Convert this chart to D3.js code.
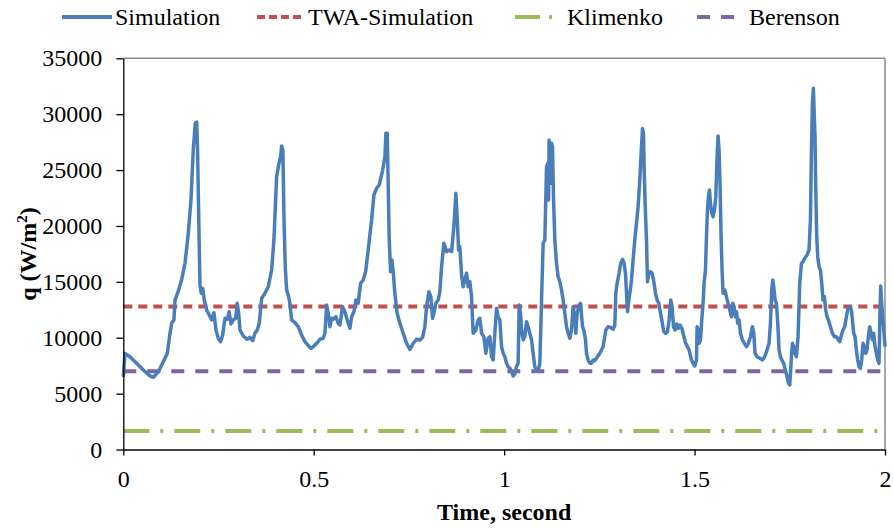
<!DOCTYPE html>
<html>
<head>
<meta charset="utf-8">
<script src="https://cdn.jsdelivr.net/npm/d3@7"></script>
<style>
  body { margin: 0; background: #fff; }
</style>
</head>
<body>
<svg id="chart" width="893" height="529"></svg>
<script>
// Simulated wall heat flux q (W/m²) versus time (s)
const simTime = [
  0, 0.0045, 0.0176, 0.035, 0.0525, 0.070, 0.079, 0.092, 0.105, 0.1155,
  0.1226, 0.127, 0.133, 0.1357, 0.144, 0.153, 0.162, 0.1706, 0.1777, 0.1837,
  0.189, 0.1926, 0.195, 0.198, 0.2013, 0.2047, 0.2084, 0.2126, 0.219, 0.2257,
  0.232, 0.238, 0.2433, 0.2493, 0.2556, 0.2609, 0.267, 0.273, 0.278, 0.2827,
  0.2887, 0.295, 0.299, 0.303, 0.3063, 0.315, 0.3255, 0.3326, 0.3396, 0.3457,
  0.3517, 0.357, 0.3633, 0.372, 0.3806, 0.3895, 0.3955, 0.4026, 0.4087, 0.413,
  0.4157, 0.419, 0.4218, 0.4252, 0.4289, 0.433, 0.4375, 0.442, 0.4506, 0.4593,
  0.4682, 0.4769, 0.488, 0.4935, 0.4987, 0.5076, 0.5163, 0.525, 0.5294, 0.5339,
  0.538, 0.5425, 0.547, 0.5512, 0.5583, 0.5643, 0.5688, 0.5758, 0.5819, 0.5879,
  0.595, 0.5995, 0.6055, 0.6108, 0.6168, 0.623, 0.63, 0.6362, 0.643, 0.652,
  0.658, 0.665, 0.672, 0.681, 0.687, 0.6895, 0.693, 0.6955, 0.698, 0.7018,
  0.7052, 0.7087, 0.713, 0.719, 0.7262, 0.7349, 0.7438, 0.7525, 0.7612, 0.77,
  0.7787, 0.7858, 0.7919, 0.7963, 0.8024, 0.8076, 0.8121, 0.8155, 0.8207, 0.8268,
  0.8312, 0.8357, 0.8417, 0.8488, 0.8556, 0.862, 0.868, 0.8732, 0.8766, 0.8803,
  0.8837, 0.8882, 0.8924, 0.8968, 0.9013, 0.9055, 0.91, 0.9144, 0.9186, 0.9257,
  0.9318, 0.9362, 0.9407, 0.9467, 0.952, 0.958, 0.9625, 0.967, 0.9711, 0.9756,
  0.98, 0.9843, 0.9887, 0.9932, 0.9974, 1.0018, 1.0063, 1.0105, 1.015, 1.0194,
  1.0236, 1.028, 1.0325, 1.0367, 1.0394, 1.043, 1.0465, 1.05, 1.0543, 1.0588,
  1.063, 1.0675, 1.072, 1.0761, 1.0806, 1.085, 1.0892, 1.0937, 1.0982, 1.1024,
  1.1068, 1.1113, 1.1147, 1.1165, 1.1181, 1.1218, 1.1244, 1.127, 1.1297, 1.1331,
  1.1375, 1.1417, 1.1462, 1.1507, 1.1549, 1.1593, 1.1638, 1.168, 1.1724, 1.1769,
  1.1811, 1.1856, 1.1882, 1.1916, 1.1969, 1.2005, 1.2058, 1.2092, 1.2136, 1.2163,
  1.2205, 1.225, 1.2294, 1.2336, 1.238, 1.2425, 1.2512, 1.2598, 1.267, 1.273,
  1.2793, 1.286, 1.2906, 1.2932, 1.2966, 1.3018, 1.3063, 1.3108, 1.315, 1.3186,
  1.3213, 1.324, 1.3273, 1.33, 1.3344, 1.3386, 1.343, 1.3475, 1.3517, 1.3562,
  1.3606, 1.3633, 1.3659, 1.3675, 1.3701, 1.3738, 1.3764, 1.3798, 1.3843, 1.3885,
  1.393, 1.3974, 1.4016, 1.406, 1.4105, 1.4147, 1.4192, 1.4244, 1.4289, 1.4331,
  1.4375, 1.441, 1.4446, 1.4488, 1.4533, 1.4577, 1.462, 1.4664, 1.4709, 1.4761,
  1.4814, 1.4856, 1.4919, 1.4961, 1.5006, 1.505, 1.5066, 1.5092, 1.5118, 1.5155,
  1.5189, 1.5223, 1.525, 1.5286, 1.5312, 1.5339, 1.5365, 1.5391, 1.5417, 1.5452,
  1.5486, 1.5523, 1.5557, 1.5591, 1.5617, 1.5643, 1.567, 1.5696, 1.5722, 1.5748,
  1.5793, 1.5837, 1.5879, 1.5924, 1.5969, 1.6003, 1.6037, 1.6073, 1.61, 1.6134,
  1.6168, 1.6205, 1.6257, 1.631, 1.6362, 1.6415, 1.6467, 1.652, 1.6554, 1.6588,
  1.6641, 1.6711, 1.6782, 1.6843, 1.6903, 1.6955, 1.6992, 1.7026, 1.7053, 1.7079,
  1.7113, 1.7149, 1.7184, 1.7218, 1.7255, 1.7289, 1.7341, 1.7394, 1.7428, 1.7465,
  1.75, 1.7533, 1.757, 1.7604, 1.7638, 1.7674, 1.7717, 1.7761, 1.7806, 1.7848,
  1.7892, 1.7953, 1.8005, 1.8042, 1.8068, 1.8094, 1.812, 1.8147, 1.8163, 1.8181,
  1.8207, 1.8234, 1.8268, 1.8304, 1.8339, 1.8373, 1.8409, 1.8444, 1.8478, 1.8514,
  1.8567, 1.8619, 1.8672, 1.8724, 1.8777, 1.8811, 1.8856, 1.8898, 1.8942, 1.8987,
  1.9029, 1.9073, 1.9118, 1.9144, 1.9178, 1.9213, 1.9247, 1.9283, 1.9318, 1.9354,
  1.9388, 1.9423, 1.9458, 1.9493, 1.9528, 1.9563, 1.9598, 1.9633, 1.9669, 1.9703,
  1.9738, 1.9774, 1.9808, 1.9843, 1.9869, 1.9887, 1.9913, 1.994, 1.9974, 2.0
];
const simQ = [
  6500, 8600, 8300, 7710, 7110, 6575, 6460, 6960, 7855, 8600,
  10400, 11290, 11590, 13375, 14120, 15165, 16660, 19340, 22320, 26800,
  29185, 29300, 26800, 20830, 14720, 13975, 14420, 13375, 12480, 12030,
  11590, 12240, 10690, 9950, 9645, 10245, 11740, 11650, 12330, 11230,
  11590, 11740, 13080, 12185, 10690, 10155, 9860, 10040, 9735, 10400,
  10690, 11290, 13530, 13975, 14570, 16060, 18745, 24410, 25605, 26200,
  27150, 26800, 20830, 16355, 14270, 13825, 13080, 11590, 11345, 10990,
  10245, 9645, 9200, 9055, 9200, 9500, 9860, 9950, 10400, 12930,
  12185, 10990, 11740, 11650, 11880, 11290, 11140, 12775, 12330, 11590,
  10845, 11880, 12330, 13375, 13080, 14870, 15165, 15910, 17850, 20530,
  22770, 23370, 23665, 25000, 26200, 28290, 28290, 23815, 19040, 15910,
  16955, 15910, 13975, 12185, 11290, 10400, 9500, 8965, 9500, 9860,
  9800, 10040, 10990, 12775, 14120, 13670, 11740, 12185, 13080, 13375,
  14120, 16355, 18450, 17700, 17850, 17700, 19935, 22920, 20830, 17850,
  18145, 15610, 14570, 15165, 15765, 14570, 15015, 13670, 10400, 10690,
  11590, 11740, 10400, 10095, 8605, 9950, 10095, 8300, 8010, 10400,
  12630, 11880, 11590, 9200, 8605, 8300, 7710, 7410, 7265, 6960,
  6575, 6755, 7410, 7710, 12930, 12185, 10400, 9800, 10095, 11435,
  10990, 10400, 9800, 8605, 7410, 7050, 7050, 7710, 13375, 18450,
  18745, 25300, 25600, 22320, 27690, 23815, 27390, 27090, 22320, 18745,
  16660, 15460, 15015, 14270, 13375, 12185, 10990, 10400, 9950, 10690,
  12775, 11880, 10400, 12185, 12930, 13080, 10990, 10690, 9800, 8605,
  8010, 7710, 7710, 8010, 7945, 8160, 8605, 9200, 10690, 10990,
  10930, 10755, 11140, 13975, 14870, 15765, 16660, 17015, 16660, 15765,
  13975, 12330, 13375, 13975, 15165, 16955, 18745, 20240, 21720, 24110,
  27090, 28730, 28290, 25300, 22030, 18745, 15015, 15765, 15910, 15765,
  15015, 13975, 13375, 13080, 12185, 11435, 10540, 10400, 10540, 11590,
  13375, 12775, 10990, 10690, 11230, 10845, 11140, 10845, 10245, 9555,
  9200, 8910, 8010, 7710, 7470, 8010, 10990, 10690, 9500, 9800,
  11590, 13080, 14870, 16060, 19040, 21430, 22620, 23220, 22030, 21130,
  20830, 21430, 22620, 26200, 28050, 26800, 23515, 19040, 16060, 13975,
  14270, 13670, 13080, 12480, 11880, 13080, 12775, 11880, 12330, 11290,
  11590, 10400, 9800, 9500, 9200, 9500, 10095, 10990, 10400, 8605,
  8300, 8160, 8010, 8300, 8910, 9500, 11290, 14270, 15165, 14570,
  13375, 13080, 11290, 8910, 8300, 8010, 7710, 6960, 6515, 5920,
  5770, 7710, 9500, 9200, 8605, 8300, 10095, 14870, 16660, 16800,
  17105, 17400, 17850, 20530, 26500, 30975, 32315, 29480, 27990, 23515,
  19040, 17250, 16355, 16060, 14870, 13375, 13670, 12480, 11880, 11590,
  10990, 10400, 10095, 10095, 9800, 9645, 10245, 10690, 10990, 11880,
  12630, 12775, 12480, 11590, 10400, 10095, 8910, 8010, 7410, 7265,
  8010, 9500, 9200, 8605, 8910, 10095, 10990, 10400, 9800, 10400,
  9200, 8605, 8010, 7710, 12480, 14630, 13080, 11880, 10400, 9200
];

// Reference (constant) heat flux levels
const twaQ = 12800;
const klimenkoQ = 1650;
const berensonQ = 7000;

const seriesNames = ["Simulation", "TWA-Simulation", "Klimenko", "Berenson"];
const xTicks = [0, 0.5, 1, 1.5, 2];
const xTickLabels = ["0", "0.5", "1", "1.5", "2"];
const yTicks = [0, 5000, 10000, 15000, 20000, 25000, 30000, 35000];
const yTickLabels = ["0", "5000", "10000", "15000", "20000", "25000", "30000", "35000"];
const xTitle = "Time, second";

// Layout and styles
const FONT = '"Liberation Serif", "Times New Roman", Tinos, serif';
const plot = { left: 123.3, right: 885, top: 58.3, bottom: 449.5 };
const colors = { sim: "#4A7EBB", twa: "#C0504D", kli: "#9BBB59", ber: "#8064A2" };
const dashes = { twa: "9,6", kli: "26,11,3,11", ber: "13,11" };

const svg = d3.select("#chart");

const x = d3.scaleLinear().domain([0, 2]).range([plot.left, plot.right]);
const y = d3.scaleLinear().domain([0, 35000]).range([plot.bottom, plot.top]);

// Plot frame (top and right edges)
svg.append("line")
  .attr("x1", plot.left).attr("x2", plot.right)
  .attr("y1", plot.top).attr("y2", plot.top)
  .attr("stroke", "#8c8c8c").attr("stroke-width", 1.5);
svg.append("line")
  .attr("x1", plot.right).attr("x2", plot.right)
  .attr("y1", plot.top).attr("y2", plot.bottom)
  .attr("stroke", "#8c8c8c").attr("stroke-width", 1.5);

// Constant reference lines
const refLines = [
  { v: klimenkoQ, c: colors.kli, d: dashes.kli },
  { v: berensonQ, c: colors.ber, d: dashes.ber },
  { v: twaQ, c: colors.twa, d: dashes.twa }
];
refLines.forEach(r => {
  svg.append("line")
    .attr("x1", x(0)).attr("x2", x(2))
    .attr("y1", y(r.v)).attr("y2", y(r.v))
    .attr("stroke", r.c).attr("stroke-width", 4)
    .attr("stroke-dasharray", r.d);
});

// Simulation curve
const line = d3.line()
  .x((d, i) => x(simTime[i]))
  .y((d, i) => y(simQ[i]));
svg.append("path")
  .datum(simQ)
  .attr("d", line)
  .attr("fill", "none")
  .attr("stroke", colors.sim)
  .attr("stroke-width", 3.5)
  .attr("stroke-linejoin", "round");

// Axes
const yAxis = svg.append("g")
  .attr("transform", `translate(${plot.left},0)`)
  .call(d3.axisLeft(y).tickValues(yTicks).tickFormat((d, i) => yTickLabels[i])
        .tickSize(7).tickPadding(14).tickSizeOuter(0));
const xAxis = svg.append("g")
  .attr("transform", `translate(0,${plot.bottom})`)
  .call(d3.axisBottom(x).tickValues(xTicks).tickFormat((d, i) => xTickLabels[i])
        .tickSize(6).tickSizeOuter(0));

[yAxis, xAxis].forEach(g => {
  g.select(".domain").attr("stroke", "#000").attr("stroke-width", 1.3);
  g.selectAll(".tick line").attr("stroke", "#000").attr("stroke-width", 1.3);
  g.selectAll("text").attr("fill", "#000").style("font-size", "24px");
});
xAxis.selectAll("text").attr("y", 37).attr("dy", 0);

// Axis titles
svg.append("text")
  .attr("x", (plot.left + plot.right) / 2)
  .attr("y", 520)
  .attr("text-anchor", "middle")
  .style("font-size", "24px").style("font-weight", "bold")
  .text(xTitle);

const yTitle = svg.append("text")
  .attr("transform", "translate(36,254) rotate(-90)")
  .attr("text-anchor", "middle")
  .style("font-size", "24px").style("font-weight", "bold");
yTitle.append("tspan").text("q (W/m");
yTitle.append("tspan").style("font-size", "15px").attr("dy", -9).text("2");
yTitle.append("tspan").attr("dy", 9).text(")");

// Legend
const legendY = 17;
const legendItems = [
  { name: seriesNames[0], x1: 62, x2: 112, tx: 115, c: colors.sim, d: null },
  { name: seriesNames[1], x1: 257, x2: 303, tx: 308, c: colors.twa, d: "8,4" },
  { name: seriesNames[2], x1: 515, x2: 555, tx: 567, c: colors.kli, d: "25,9,3,20" },
  { name: seriesNames[3], x1: 697, x2: 735, tx: 749, c: colors.ber, d: "13,11" }
];
const leg = svg.append("g");
legendItems.forEach(it => {
  const l = leg.append("line")
    .attr("x1", it.x1).attr("x2", it.x2)
    .attr("y1", legendY).attr("y2", legendY)
    .attr("stroke", it.c).attr("stroke-width", 4);
  if (it.d) l.attr("stroke-dasharray", it.d);
  leg.append("text")
    .attr("x", it.tx).attr("y", legendY + 8)
    .style("font-size", "24px")
    .text(it.name);
});

// Serif typeface for every label
svg.selectAll("text").style("font-family", FONT);
</script>
</body>
</html>
